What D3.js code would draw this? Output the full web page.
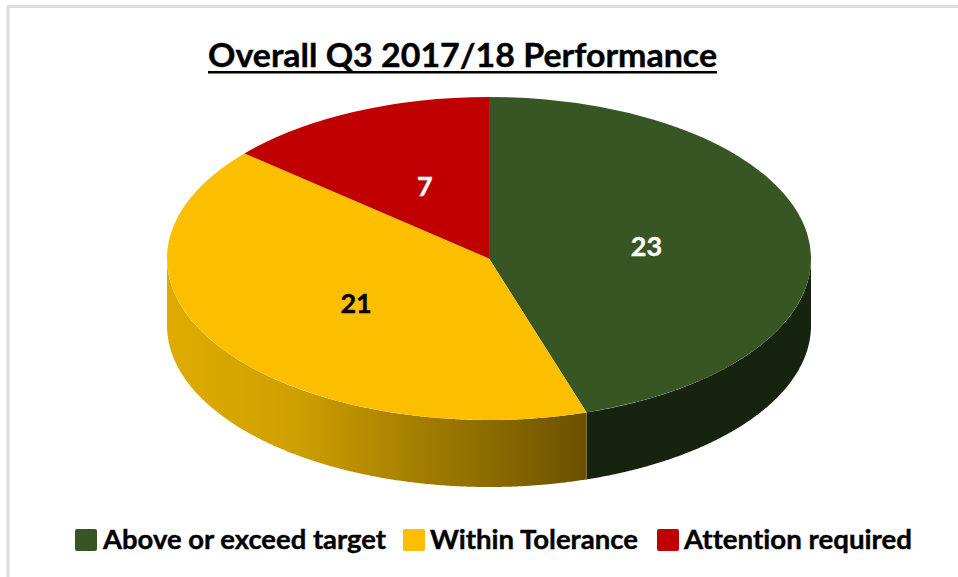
<!DOCTYPE html>
<html>
<head>
<meta charset="utf-8">
<script src="https://cdnjs.cloudflare.com/ajax/libs/d3/7.8.5/d3.min.js"></script>
<style>
  html, body { margin: 0; padding: 0; background: #fff; }
  svg { display: block; }
  text { font-family: Lato, "Open Sans", sans-serif; font-weight: 700; font-variant-ligatures: none; stroke: currentColor; stroke-width: 0.4px; }
</style>
</head>
<body>
<script>
var categories = ['Above or exceed target', 'Within Tolerance', 'Attention required']
var values = [23, 21, 7]
var colors = ['#375623', '#FCBF00', '#C00000']
var labelColors = ['#fff', '#000', '#fff']
var chartTitle = 'Overall Q3 2017/18 Performance'

var w = 958
var h = 577

var cx = 489
var cy = 258.5
var rx = 322
var ry = 161.5
var depth = 67

var svg = d3.select('body')
            .append('svg')
            .attr('width', w)
            .attr('height', h)

// grey frame of the screenshot, only top and left show
svg.append('path')
  .attr('d', 'M8,577V6.5H958')
  .attr('fill', 'none')
  .attr('stroke', '#dedede')
  .attr('stroke-width', 3)

var defs = svg.append('defs')
var grad = defs.append('linearGradient')
  .attr('id', 'sideYellow')
  .attr('gradientUnits', 'userSpaceOnUse')
  .attr('x1', cx - rx).attr('x2', cx + 97)
  .attr('y1', 0).attr('y2', 0)
grad.append('stop').attr('offset', 0).attr('stop-color', '#DFAB00')
grad.append('stop').attr('offset', 0.3).attr('stop-color', '#CFA000')
grad.append('stop').attr('offset', 1).attr('stop-color', '#6B5100')

var pie = d3.pie().sort(null).value(function (d) { return d })
var slices = pie(values)

// angle is clockwise from 12 o'clock, same as d3.pie
function px (a) { return cx + rx * Math.sin(a) }
function py (a) { return cy - ry * Math.cos(a) }

var side = d3.area()
  .x(function (a) { return px(a) })
  .y0(function (a) { return py(a) })
  .y1(function (a) { return py(a) + depth })

// only the front half of the rim is visible
var sideFills = ['#16230F', 'url(#sideYellow)']
slices.forEach(function (s, i) {
  var from = Math.max(s.startAngle, Math.PI / 2)
  var to = Math.min(s.endAngle, Math.PI * 1.5)
  if (to <= from) return
  var steps = d3.range(from, to, 0.005).concat([to])
  svg.append('path')
    .attr('d', side(steps))
    .attr('fill', sideFills[i])
})

// top face: circular arcs squashed to an ellipse
var arc = d3.arc().innerRadius(0).outerRadius(rx)
var topFace = svg.append('g')
  .attr('transform', 'translate(' + cx + ',' + cy + ') scale(1,' + (ry / rx) + ')')

topFace.selectAll('.slice')
  .data(slices)
  .enter()
    .append('path')
    .classed('slice', true)
    .attr('d', arc)
    .attr('fill', function (d, i) { return colors[i] })

// SET LABEL ON EACH SLICE
var labelArc = d3.arc().innerRadius(rx * 0.495).outerRadius(rx * 0.495)
var labelNudge = [0, 0, 2.5]
svg.selectAll('.slice-label')
  .data(slices)
  .enter()
    .append('text')
    .classed('slice-label', true)
    .text(function (d) { return d.value })
    .attr('x', function (d, i) { return cx + labelArc.centroid(d)[0] + labelNudge[i] })
    .attr('y', function (d) { return cy + labelArc.centroid(d)[1] * ry / rx + 10 })
    .attr('text-anchor', 'middle')
    .attr('font-size', 27)
    .attr('fill', function (d, i) { return labelColors[i] })
    .style('color', function (d, i) { return labelColors[i] })

svg.append('text')
  .text(chartTitle)
  .attr('x', 208)
  .attr('y', 67)
  .attr('font-size', 32)
  .attr('textLength', 509)
  .attr('lengthAdjust', 'spacingAndGlyphs')
svg.append('rect')
  .attr('x', 208).attr('y', 71)
  .attr('width', 509).attr('height', 2.5)
  .attr('fill', '#000')

// legend
var legendX = [75, 403, 657]
var legendTextX = [103, 430, 684]
var legendTextW = [283, 208, 228]
var legend = svg.selectAll('.legend')
  .data(categories)
  .enter()
    .append('g')
    .classed('legend', true)
legend.append('rect')
  .attr('x', function (d, i) { return legendX[i] })
  .attr('y', 529)
  .attr('width', 22)
  .attr('height', 22)
  .attr('rx', 2)
  .attr('fill', function (d, i) { return colors[i] })
legend.append('text')
  .text(function (d) { return d })
  .attr('x', function (d, i) { return legendTextX[i] })
  .attr('y', 549)
  .attr('font-size', 26)
  .attr('textLength', function (d, i) { return legendTextW[i] })
  .attr('lengthAdjust', 'spacingAndGlyphs')
</script>
</body>
</html>
